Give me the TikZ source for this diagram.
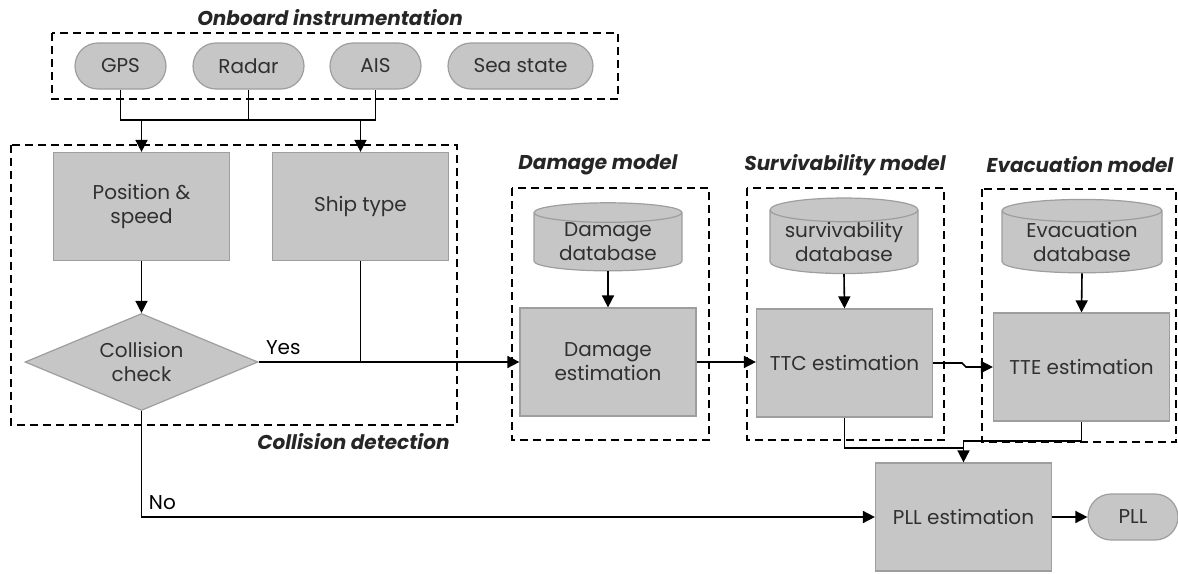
\documentclass[tikz,border=0pt]{standalone}
\usepackage{fontspec}
\setmainfont{Poppins}
\usetikzlibrary{arrows.meta,shapes.geometric}

\definecolor{boxgray}{HTML}{C6C6C6}
\definecolor{boxline}{HTML}{9E9E9E}
\definecolor{txtgray}{HTML}{303030}

\begin{document}
\begin{tikzpicture}[x=0.5pt,y=-0.5pt,>={Triangle[length=6pt,width=6pt]},
        line width=0.8pt,font=\fontsize{10}{12}\selectfont,
        block/.style={rectangle,draw=boxline,fill=boxgray,line width=0.6pt,text=txtgray,
          minimum width=88pt,minimum height=54pt,inner sep=0pt,align=center},
        sensor/.style={rectangle,rounded corners=11.5pt,draw=boxline,fill=boxgray,
          line width=0.6pt,text=txtgray,minimum height=23pt,inner sep=0pt},
        store/.style={cylinder,shape border rotate=90,aspect=0.2,draw=boxline,fill=boxgray,
          line width=0.6pt,text=txtgray,minimum width=74pt,minimum height=33pt,
          inner sep=0pt,align=center},
        check/.style={diamond,aspect=2.4,draw=boxline,fill=boxgray,line width=0.6pt,
          text=txtgray,minimum width=116.5pt,minimum height=48.5pt,inner sep=0pt,align=center},
        group/.style={dash pattern=on 4pt off 2.5pt,line width=0.7pt},
        grouptitle/.style={font=\fontsize{10}{12}\selectfont\bfseries\itshape,text=black!85}]

  \useasboundingbox (0,0) rectangle (1178,573);

  % dashed groups
  \draw[group] (52,33) rectangle (618,99);
  \draw[group] (11,145) rectangle (457,425);
  \draw[group] (512,188) rectangle (709,440);
  \draw[group] (747,188) rectangle (944,440);
  \draw[group] (982,189) rectangle (1176,442);

  \node[grouptitle] (onboard) at (330,18) {Onboard instrumentation};
  \node[grouptitle,anchor=east] (coldet) at (457,442) {Collision detection};
  \node[grouptitle] (dmgmodel) at (598,165) {Damage model};
  \node[grouptitle] (survmodel) at (845,165) {Survivability model};
  \node[grouptitle] (evacmodel) at (1080,165) {Evacuation model};

  % sensors
  \node[sensor,minimum width=45.5pt] (gps) at (120.5,66) {GPS};
  \node[sensor,minimum width=55.5pt] (radar) at (248.5,66) {Radar};
  \node[sensor,minimum width=45.5pt] (ais) at (375.5,66) {AIS};
  \node[sensor,minimum width=72.5pt] (sea) at (520.5,66) {Sea state};

  % collision detection
  \node[block] (pos) at (141.5,206.5) {Position \&\\speed};
  \node[block] (ship) at (360.5,206.5) {Ship type};
  \node[check] (chk) at (141.5,362) {Collision\\check};

  % models
  \node[store] (ddb) at (608,242) {Damage\\database};
  \node[store] (sdb) at (844,242) {survivability\\database};
  \node[store,minimum width=80pt] (edb) at (1082,242) {Evacuation\\database};
  \node[block] (dmg) at (608,362) {Damage\\estimation};
  \node[block] (ttc) at (844.5,363) {TTC estimation};
  \node[block] (tte) at (1081.5,367) {TTE estimation};
  \node[block] (pll) at (963.5,517) {PLL estimation};
  \node[sensor,minimum width=45pt] (out) at (1133,517) {PLL};

  \coordinate (bus) at (0,120);
  \draw (gps.south) |- (ais.south |- bus) -- (ais.south);
  \draw (radar.south) -- (radar.south |- bus);
  \draw[->] (pos.north |- bus) -- (pos.north);
  \draw[->] (ship.north |- bus) -- (ship.north);
  \draw[->] (pos) -- (chk);
  \draw[->] (chk.east) -- node[pos=0,above right] {Yes} (chk.east -| dmg.west);
  \draw (ship.south) -- (ship.south |- chk.east);
  \draw[->] (chk.south) |- node[pos=0.5,above right] {No} (pll.west);

  \draw[->] (ddb.south) -- (dmg.north);
  \draw[->] (sdb.south) -- (ttc.north);
  \draw[->] (edb.south) -- (tte.north);
  \draw[->] (dmg.east) -- (dmg.east -| ttc.west);
  \draw[->] (ttc.east) -- ++(29,0) -- ++(4,4) -- (tte.west);

  \draw (ttc.south) |- (pll.north |- 0,448);
  \draw[->] (tte.south) |- (pll.north |- 0,441) -- (pll.north);
  \draw[->] (pll) -- (out);

\end{tikzpicture}
\end{document}
